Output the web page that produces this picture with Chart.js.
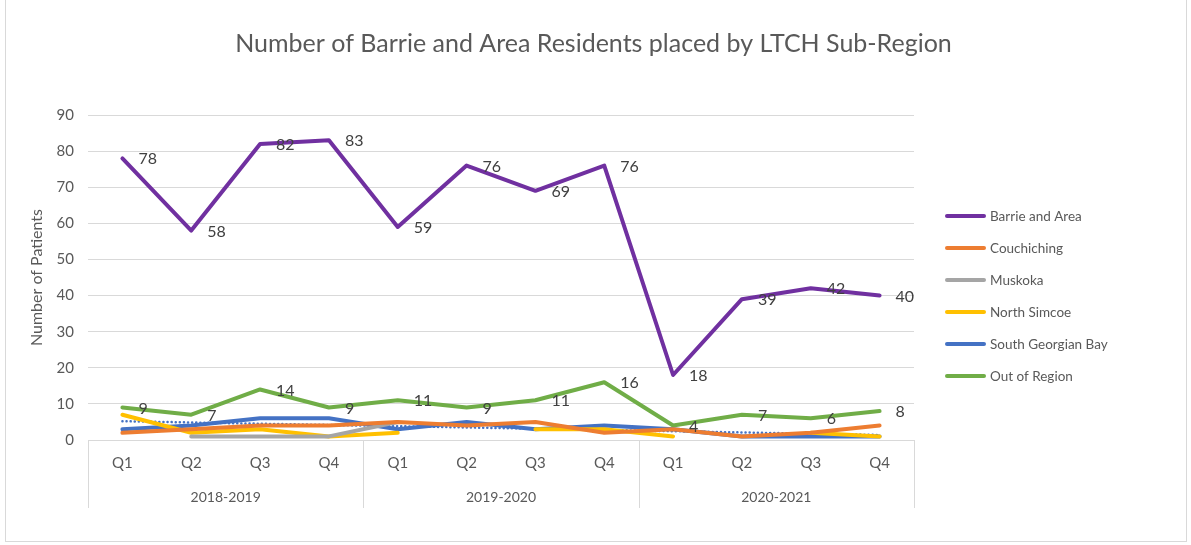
<!DOCTYPE html>
<html lang="en">
<head>
<meta charset="UTF-8">
<title>Barrie and Area Residents placed by LTCH Sub-Region</title>
<script src="https://cdn.jsdelivr.net/npm/chart.js"></script>
<style>
  body { margin: 0; background: #fff; }
  .frame { position: relative; width: 1191px; height: 545px; overflow: hidden; }
  .frame canvas { position: absolute; left: 0; top: 0; }
  .frame .edge { position: absolute; left: 5px; top: -1px; width: 1180px; height: 541px; border: 1px solid #d9d9d9; pointer-events: none; }
</style>
</head>
<body>
<div class="frame">
  <canvas id="chart" width="1191" height="545"></canvas>
  <div class="edge"></div>
</div>
<script>
// chart data
const quarters = ['Q1', 'Q2', 'Q3', 'Q4', 'Q1', 'Q2', 'Q3', 'Q4', 'Q1', 'Q2', 'Q3', 'Q4'];
const fiscalYears = ['2018-2019', '2019-2020', '2020-2021'];
const yTicks = [0, 10, 20, 30, 40, 50, 60, 70, 80, 90];

const barrieArea = [78, 58, 82, 83, 59, 76, 69, 76, 18, 39, 42, 40];
const couchiching = [2, 3, 4, 4, 5, 4, 5, 2, 3, 1, 2, 4];
const muskoka = [null, 1, 1, 1, 5, null, null, null, null, null, null, null];
const northSimcoe = [7, 2, 3, 1, 2, null, 3, 3, 1, null, 2, 1];
const southGeorgianBay = [3, 4, 6, 6, 3, 5, 3, 4, 3, 1, 1, 1];
const outOfRegion = [9, 7, 14, 9, 11, 9, 11, 16, 4, 7, 6, 8];
// dotted linear trend of South Georgian Bay (end points)
const sgbTrend = [5.2, null, null, null, null, null, null, null, null, null, null, 1.4];

const FONT = 'Lato, "Open Sans", sans-serif';
const GREY_TEXT = '#595959';
const GRID = '#d9d9d9';

function series(label, data, color, showValues) {
    return {
        label: label,
        data: data,
        borderColor: color,
        backgroundColor: color,
        borderWidth: 4,
        pointRadius: 0,
        tension: 0,
        borderCapStyle: 'round',
        borderJoinStyle: 'round',
        showValues: showValues
    };
}

const datasets = [
    series('Barrie and Area', barrieArea, '#7030a0', true),
    series('Couchiching', couchiching, '#ed7d31', false),
    series('Muskoka', muskoka, '#a5a5a5', false),
    series('North Simcoe', northSimcoe, '#ffc000', false),
    series('South Georgian Bay', southGeorgianBay, '#4472c4', false),
    series('Out of Region', outOfRegion, '#70ad47', true),
    {
        label: 'Linear (South Georgian Bay)',
        data: sgbTrend,
        borderColor: '#4472c4',
        borderWidth: 2.5,
        borderDash: [0.1, 4],
        borderCapStyle: 'round',
        pointRadius: 0,
        spanGaps: true,
        trend: true
    }
];

// title, value labels, two level category axis and legend
const decorations = {
    id: 'decorations',
    afterDatasetsDraw(chart) {
        const ctx = chart.ctx;
        ctx.save();
        ctx.font = '16px ' + FONT;
        ctx.fillStyle = '#404040';
        ctx.textAlign = 'left';
        ctx.textBaseline = 'middle';
        chart.data.datasets.forEach((ds, di) => {
            if (!ds.showValues) return;
            chart.getDatasetMeta(di).data.forEach((pt, i) => {
                if (ds.data[i] == null) return;
                ctx.fillText(String(ds.data[i]), pt.x + 16, pt.y + 1);
            });
        });
        ctx.restore();
    },
    afterDraw(chart) {
        const ctx = chart.ctx;
        const area = chart.chartArea;
        const x = chart.scales.x;
        ctx.save();

        // title
        ctx.fillStyle = GREY_TEXT;
        ctx.font = '25px ' + FONT;
        ctx.textAlign = 'center';
        ctx.textBaseline = 'middle';
        ctx.fillText('Number of Barrie and Area Residents placed by LTCH Sub-Region', chart.width / 2 - 2, 44);

        // quarter labels
        ctx.font = '15px ' + FONT;
        quarters.forEach((q, i) => {
            ctx.fillText(q, x.getPixelForValue(i), area.bottom + 23);
        });

        // year groups and their dividers
        ctx.strokeStyle = GRID;
        ctx.lineWidth = 1;
        const per = quarters.length / fiscalYears.length;
        const bounds = [area.left];
        for (let k = 1; k < fiscalYears.length; k++) {
            bounds.push((x.getPixelForValue(k * per - 1) + x.getPixelForValue(k * per)) / 2);
        }
        bounds.push(area.right);
        bounds.forEach(bx => {
            const px = Math.round(bx) + 0.5;
            ctx.beginPath();
            ctx.moveTo(px, area.bottom);
            ctx.lineTo(px, area.bottom + 68);
            ctx.stroke();
        });
        ctx.font = '14px ' + FONT;
        fiscalYears.forEach((yr, k) => {
            ctx.fillText(yr, (bounds[k] + bounds[k + 1]) / 2, area.bottom + 57);
        });

        // legend
        ctx.textAlign = 'left';
        ctx.font = '13.5px ' + FONT;
        let ly = 216;
        chart.data.datasets.forEach(ds => {
            if (ds.trend) return;
            ctx.strokeStyle = ds.borderColor;
            ctx.lineWidth = 4;
            ctx.lineCap = 'round';
            ctx.beginPath();
            ctx.moveTo(947, ly);
            ctx.lineTo(984, ly);
            ctx.stroke();
            ctx.fillStyle = GREY_TEXT;
            ctx.fillText(ds.label, 990, ly + 1);
            ly += 32;
        });
        ctx.restore();
    }
};

new Chart(document.getElementById('chart'), {
    type: 'line',
    data: { labels: quarters, datasets: datasets },
    options: {
        responsive: false,
        animation: false,
        layout: { padding: { left: 14, right: 277, top: 115, bottom: 37 } },
        plugins: {
            legend: { display: false },
            title: { display: false },
            tooltip: { enabled: false }
        },
        scales: {
            x: {
                type: 'category',
                offset: true,
                grid: { display: false },
                border: { display: false },
                ticks: { display: false },
                afterFit: s => { s.height = 68; }
            },
            y: {
                min: 0,
                max: 90,
                afterBuildTicks: s => { s.ticks = yTicks.map(v => ({ value: v })); },
                grid: { color: GRID, drawTicks: false },
                border: { display: false },
                ticks: { color: GREY_TEXT, font: { family: FONT, size: 15 }, padding: 14 },
                title: {
                    display: true,
                    text: 'Number of Patients',
                    color: GREY_TEXT,
                    font: { family: FONT, size: 16 },
                    padding: { top: 13, bottom: 0 }
                },
                afterFit: s => { s.width = 74; }
            }
        }
    },
    plugins: [decorations]
});
</script>
</body>
</html>
